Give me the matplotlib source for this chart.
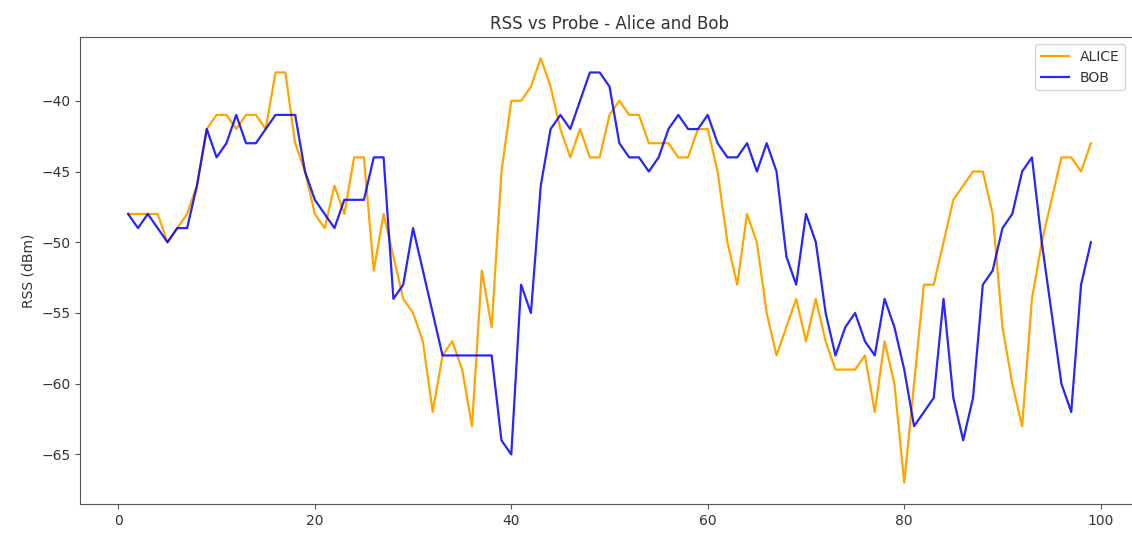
import matplotlib
matplotlib.use("Agg")
import matplotlib.pyplot as plt

probe = list(range(1, 100))
alice = [-48, -48, -48, -48, -50, -49, -48, -46, -42, -41,
         -41, -42, -41, -41, -42, -38, -38, -43, -45, -48,
         -49, -46, -48, -44, -44, -52, -48, -51, -54, -55,
         -57, -62, -58, -57, -59, -63, -52, -56, -45, -40,
         -40, -39, -37, -39, -42, -44, -42, -44, -44, -41,
         -40, -41, -41, -43, -43, -43, -44, -44, -42, -42,
         -45, -50, -53, -48, -50, -55, -58, -56, -54, -57,
         -54, -57, -59, -59, -59, -58, -62, -57, -60, -67,
         -60, -53, -53, -50, -47, -46, -45, -45, -48, -56,
         -60, -63, -54, -50, -47, -44, -44, -45, -43]
bob = [-48, -49, -48, -49, -50, -49, -49, -46, -42, -44,
       -43, -41, -43, -43, -42, -41, -41, -41, -45, -47,
       -48, -49, -47, -47, -47, -44, -44, -54, -53, -49,
       -52, -55, -58, -58, -58, -58, -58, -58, -64, -65,
       -53, -55, -46, -42, -41, -42, -40, -38, -38, -39,
       -43, -44, -44, -45, -44, -42, -41, -42, -42, -41,
       -43, -44, -44, -43, -45, -43, -45, -51, -53, -48,
       -50, -55, -58, -56, -55, -57, -58, -54, -56, -59,
       -63, -62, -61, -54, -61, -64, -61, -53, -52, -49,
       -48, -45, -44, -50, -55, -60, -62, -53, -50]

fig = plt.figure(figsize=(11.32, 5.33), dpi=100)
ax = fig.add_axes([0.0707, 0.0544, 0.9355, 0.876])
ax.plot(probe, alice, color="orange", linewidth=1.6, label="ALICE")
ax.plot(probe, bob, color="blue", linewidth=1.6, label="BOB", alpha=0.85)
ax.set_title("RSS vs Probe - Alice and Bob", fontsize=12, color="#333333")
ax.set_ylabel("RSS (dBm)", fontsize=10, color="#333333")
ax.tick_params(labelsize=10, labelcolor="#333333", color="#555555")
for s in ax.spines.values():
    s.set_color("#555555")
leg = ax.legend(loc="upper right", fontsize=10, bbox_to_anchor=(0.9935, 1.0))
for t in leg.get_texts():
    t.set_color("#333333")
fig.savefig("out.png", dpi=100)
